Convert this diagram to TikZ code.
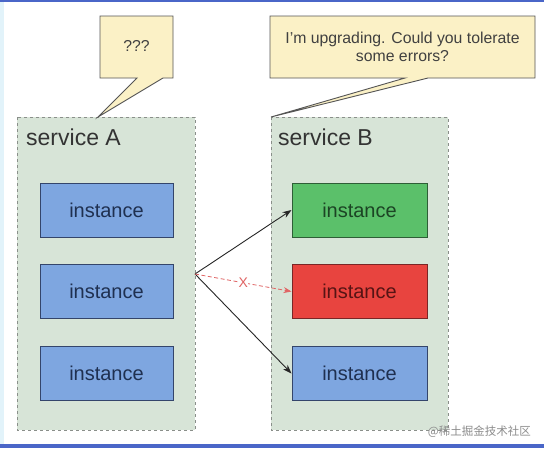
\documentclass[tikz,border=0pt]{standalone}
\usepackage{fontspec}
\setmainfont{Liberation Sans}
\newfontfamily\cjk{Noto Sans CJK SC}
\usetikzlibrary{arrows.meta}
\definecolor{contfill}{HTML}{D7E4D7}
\definecolor{contline}{HTML}{8A8F8A}
\definecolor{bluefill}{HTML}{7EA6E0}
\definecolor{blueline}{HTML}{34456B}
\definecolor{bluetext}{HTML}{1F3050}
\definecolor{greenfill}{HTML}{5BC06A}
\definecolor{greenline}{HTML}{2E5E36}
\definecolor{greentext}{HTML}{1C4424}
\definecolor{redfill}{HTML}{E8443F}
\definecolor{redline}{HTML}{7A2626}
\definecolor{redtext}{HTML}{561414}
\definecolor{callfill}{HTML}{FBF1C6}
\definecolor{callline}{HTML}{555555}
\definecolor{errline}{HTML}{E06464}
\definecolor{topblue}{HTML}{4A66C8}
\definecolor{leftblue}{HTML}{E2F3FA}
\tikzset{
  container/.style={draw=contline, fill=contfill, dash pattern=on 3pt off 3pt, line width=0.9pt},
  inst/.style={draw, line width=1pt, minimum height=54pt, inner sep=0pt,
    font=\fontsize{20}{23}\selectfont},
  bluebox/.style={inst, fill=bluefill, draw=blueline, text=bluetext, minimum width=133pt},
  greenbox/.style={inst, fill=greenfill, draw=greenline, text=greentext, minimum width=135pt},
  redbox/.style={inst, fill=redfill, draw=redline, text=redtext, minimum width=135pt},
  svclabel/.style={anchor=base west, inner sep=0pt, text=black!80, font=\fontsize{23}{26}\selectfont},
  callout/.style={draw=callline, fill=callfill, line width=0.9pt, line join=miter},
  calltext/.style={text=black!75, align=center, inner sep=0pt, font=\fontsize{15.8}{18}\selectfont},
  conn/.style={draw=black!85, line width=0.9pt, -{Stealth[length=9pt,width=6.5pt]}},
  errconn/.style={draw=errline, line width=0.8pt, dash pattern=on 4pt off 2.5pt, -{Stealth[length=8pt,width=6pt]}}
}
\begin{document}
\begin{tikzpicture}[x=1pt, y=-1pt]
\useasboundingbox (0,0) rectangle (544,448);
\fill[white] (0,0) rectangle (544,448);
\fill[leftblue] (0,0) rectangle (4,448);
\fill[topblue] (0,0) rectangle (544,1.5);
\fill[topblue] (0,443.5) rectangle (544,448);

% containers
\path[container] (17,117) rectangle (195,430);
\path[container] (271,117) rectangle (448,430);
\node[svclabel] (la) at (26,145) {service A};
\node[svclabel] (lb) at (278,145) {service B};

% callouts
\path[callout] (100,16) -- (173,16) -- (173,78) -- (163,78) -- (98,117) -- (137,78) -- (100,78) -- cycle;
\node[calltext] (ca) at (136.5,46) {???};
\path[callout] (270,16) -- (535,16) -- (535,78) -- (428,78) -- (271,117) -- (405,78) -- (270,78) -- cycle;
\node[calltext] (cb) at (402.5,47) {I'm upgrading. Could you tolerate\\some errors?};

% instances
\node[bluebox] (a1) at (106.5,210.5) {instance};
\node[bluebox] (a2) at (106.5,291) {instance};
\node[bluebox] (a3) at (106.5,373) {instance};
\node[greenbox] (b1) at (359.5,210) {instance};
\node[redbox] (b2) at (359.5,291.5) {instance};
\node[bluebox, minimum width=135pt] (b3) at (359.5,373.5) {instance};

% connectors
\coordinate (src) at (195,274);
\draw[conn] (src) -- (b1.west);
\draw[conn] (src) -- (b3.west);
\draw[errconn] (src) -- node[text=errline, fill=white, inner sep=0.5pt, font=\fontsize{14}{15}\selectfont] (xl) {X} (b2.west);

% watermark
\node[anchor=east, inner sep=0pt, text=black!45, font=\cjk\fontsize{11.5}{13}\selectfont] (wm) at (531,432) {@稀土掘金技术社区};
\end{tikzpicture}
\end{document}
